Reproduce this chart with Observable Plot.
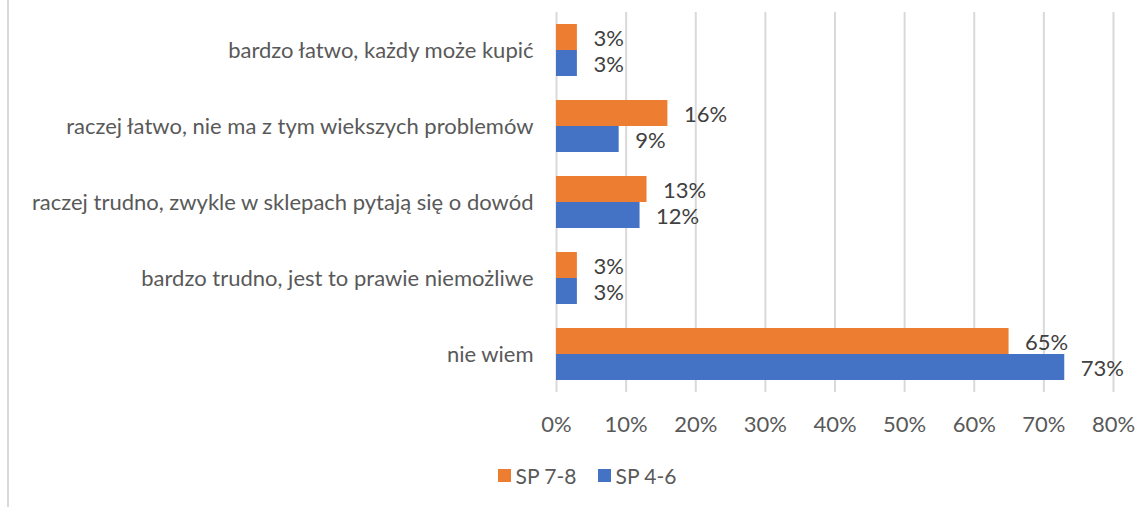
<!DOCTYPE html>
<html>
<head>
<meta charset="utf-8">
<script src="https://cdn.jsdelivr.net/npm/d3@7"></script>
<script src="https://cdn.jsdelivr.net/npm/@observablehq/plot@0.6"></script>
<style>
  html, body { margin: 0; padding: 0; background: #fff; }
  #wrap { position: relative; width: 1144px; height: 507px; overflow: hidden; font-family: Lato, "Open Sans", sans-serif; }
  #border { position: absolute; left: 7px; top: 0; width: 2px; height: 507px; background: #d9d9d9; }
  #chart { position: absolute; left: 0; top: 0; }
  #legend { position: absolute; left: 0; top: 463px; width: 1144px; display: flex; justify-content: center; align-items: center; gap: 21px; font-size: 21px; color: #595959; padding-left: 30px; box-sizing: border-box; }
  .item { display: flex; align-items: center; gap: 5px; }
  .sw { width: 13px; height: 13px; display: inline-block; }
</style>
</head>
<body>
<div id="wrap">
  <div id="border"></div>
  <div id="chart"></div>
  <div id="legend"></div>
</div>
<script>
const categories = [
  "bardzo łatwo, każdy może kupić",
  "raczej łatwo, nie ma z tym wiekszych problemów",
  "raczej trudno, zwykle w sklepach pytają się o dowód",
  "bardzo trudno, jest to prawie niemożliwe",
  "nie wiem"
];
const seriesNames = ["SP 7-8", "SP 4-6"];
const seriesColors = ["#ED7D31", "#4472C4"];
const sp78 = [0.03, 0.16, 0.13, 0.03, 0.65];
const sp46 = [0.03, 0.09, 0.12, 0.03, 0.73];
const xTicks = [0, 0.1, 0.2, 0.3, 0.4, 0.5, 0.6, 0.7, 0.8];

const dataTop = categories.map((c, i) => ({category: c, value: sp78[i]}));
const dataBot = categories.map((c, i) => ({category: c, value: sp46[i]}));

const half = 26;
const fontSize = 22;

const plot = Plot.plot({
  width: 1144,
  height: 440,
  marginLeft: 556,
  marginRight: 31,
  marginTop: 12,
  marginBottom: 48,
  style: {fontFamily: "Lato, 'Open Sans', sans-serif", fontSize: fontSize + "px", color: "#595959", background: "transparent"},
  x: {domain: [0, 0.8], ticks: xTicks, tickFormat: d => Math.round(d * 100) + "%", tickSize: 0, tickPadding: 24, label: null, grid: false},
  y: {domain: categories, paddingInner: 0.316, paddingOuter: 0.158, tickSize: 0, tickPadding: 23, label: null},
  marks: [
    Plot.gridX(xTicks, {stroke: "#d9d9d9", strokeOpacity: 1, strokeWidth: 2}),
    Plot.barX(dataTop, {x: "value", y: "category", fill: seriesColors[0], insetBottom: half}),
    Plot.barX(dataBot, {x: "value", y: "category", fill: seriesColors[1], insetTop: half}),
    Plot.text(dataTop, {x: "value", y: "category", text: d => Math.round(d.value * 100) + "%", dx: 16, dy: -12, textAnchor: "start", fill: "#404040", fontSize: fontSize}),
    Plot.text(dataBot, {x: "value", y: "category", text: d => Math.round(d.value * 100) + "%", dx: 16, dy: 14, textAnchor: "start", fill: "#404040", fontSize: fontSize})
  ]
});
document.getElementById("chart").appendChild(plot);

const legend = document.getElementById("legend");
seriesNames.forEach((name, i) => {
  const item = document.createElement("div");
  item.className = "item";
  const sw = document.createElement("span");
  sw.className = "sw";
  sw.style.background = seriesColors[i];
  const lab = document.createElement("span");
  lab.textContent = name;
  item.appendChild(sw);
  item.appendChild(lab);
  legend.appendChild(item);
});
</script>
</body>
</html>
